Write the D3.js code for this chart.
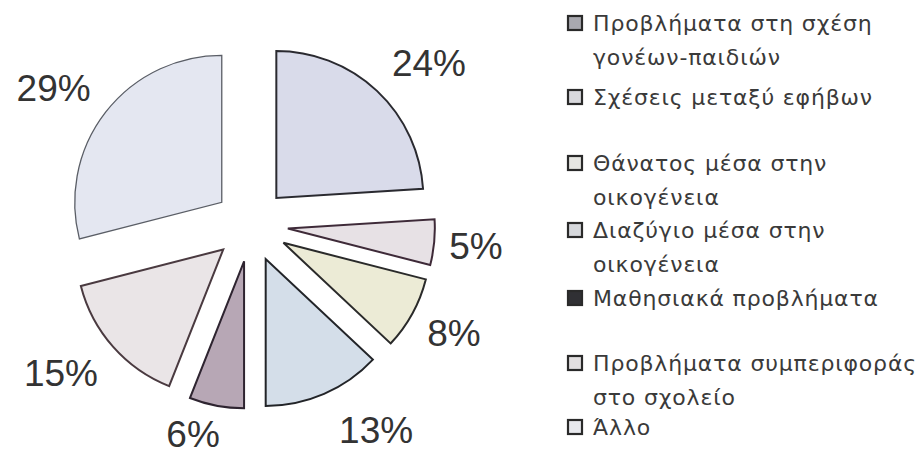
<!DOCTYPE html>
<html>
<head>
<meta charset="utf-8">
<script src="https://cdn.jsdelivr.net/npm/d3@7"></script>
<style>
  html, body { margin: 0; padding: 0; background: #ffffff; }
  svg { display: block; }
</style>
</head>
<body>
<svg id="chart" width="924" height="455"></svg>
<script>
// ---- data ----
const categories = [
  "Προβλήματα στη σχέση γονέων-παιδιών",
  "Σχέσεις μεταξύ εφήβων",
  "Θάνατος μέσα στην οικογένεια",
  "Διαζύγιο μέσα στην οικογένεια",
  "Μαθησιακά προβλήματα",
  "Προβλήματα συμπεριφοράς στο σχολείο",
  "Άλλο"
];
const values = [24, 5, 8, 13, 6, 15, 29];
const legendLines = [
  ["Προβλήματα στη σχέση", "γονέων-παιδιών"],
  ["Σχέσεις μεταξύ εφήβων"],
  ["Θάνατος μέσα στην", "οικογένεια"],
  ["Διαζύγιο μέσα στην", "οικογένεια"],
  ["Μαθησιακά προβλήματα"],
  ["Προβλήματα συμπεριφοράς", "στο σχολείο"],
  ["Άλλο"]
];

// ---- styles ----
const sliceFill   = ["#d9dbea", "#e7e1e5", "#ecebd6", "#d4dee9", "#b7a7b5", "#eae5e7", "#e4e7f1"];
const sliceStroke = ["#2a2a30", "#3e2a38", "#2a2a2a", "#222428", "#2e2430", "#4a3a40", "#5a5e66"];
const swatchFill  = ["#a9a9b0", "#d9d9dd", "#e6e6e2", "#d6d8dc", "#303034", "#e2dfe0", "#e8e9ee"];

const W = 924, H = 455;
const svg = d3.select("#chart");
const cx = 251, cy = 225, radius = 147, explode = 37;

const pie = d3.pie().sort(null).value(d => d).startAngle(0).endAngle(2 * Math.PI);
const arcs = pie(values);
const arc = d3.arc().innerRadius(0).outerRadius(radius);

const g = svg.append("g").attr("transform", `translate(${cx},${cy})`);

arcs.forEach((a, i) => {
  const mid = (a.startAngle + a.endAngle) / 2;
  const dx = Math.sin(mid) * explode, dy = -Math.cos(mid) * explode;
  g.append("path")
    .attr("d", arc(a))
    .attr("transform", `translate(${dx},${dy})`)
    .attr("fill", sliceFill[i])
    .attr("stroke", sliceStroke[i])
    .attr("stroke-width", i === 6 ? 1.3 : 2)
    .attr("stroke-linejoin", "miter");
});

// percentage labels: placed beside the outer edge point of each exploded slice
const total = d3.sum(values);
const fmt = v => Math.round(v / total * 100) + "%";
const labelFont = 37, padX = 15, padY = 26;
arcs.forEach((a, i) => {
  const mid = (a.startAngle + a.endAngle) / 2;
  const ux = Math.sin(mid), uy = -Math.cos(mid);
  const ex = ux * (radius + explode), ey = uy * (radius + explode);
  const t = g.append("text")
    .attr("font-family", "'Liberation Sans', Arial, sans-serif")
    .attr("font-size", labelFont)
    .attr("fill", "#333")
    .attr("text-anchor", "middle")
    .text(fmt(values[i]));
  const w = t.node().getComputedTextLength();
  const h = labelFont * 0.72;
  const lx = ex + Math.sign(ux) * Math.min(1, 3 * Math.abs(ux)) * (padX + w / 2);
  const ly = ey + uy * (padY + h / 2);
  // keep the whole text box (incl. descent) inside the canvas
  const base = Math.min(ly + h / 2, H - cy - labelFont * 0.21);
  t.attr("x", lx).attr("y", base);
});

// ---- legend ----
const legendX = 568, swatch = 14, textX = 593, lineH = 34;
const itemY = [23, 97, 163, 230, 298, 363, 427];
const legendFont = 22, widestTarget = 324;
const legendFamily = "'DejaVu Sans', 'Liberation Sans', sans-serif";

const lg = svg.append("g");
const measure = lg.append("text")
  .attr("font-family", legendFamily)
  .attr("font-size", legendFont)
  .text("Προβλήματα συμπεριφοράς");
const natural = measure.node().getComputedTextLength();
measure.remove();
const nChars = "Προβλήματα συμπεριφοράς".length;
const spacing = (widestTarget - natural) / nChars;

legendLines.forEach((lines, i) => {
  const y0 = itemY[i];
  lg.append("rect")
    .attr("x", legendX).attr("y", y0 - swatch / 2)
    .attr("width", swatch).attr("height", swatch)
    .attr("fill", swatchFill[i])
    .attr("stroke", "#2a2a2a").attr("stroke-width", 2.2);
  lines.forEach((ln, j) => {
    lg.append("text")
      .attr("x", textX)
      .attr("y", y0 + j * lineH + legendFont * 0.36)
      .attr("font-family", legendFamily)
      .attr("font-size", legendFont)
      .attr("letter-spacing", spacing)
      .attr("fill", "#3a3a3a")
      .text(ln);
  });
});
</script>
</body>
</html>
